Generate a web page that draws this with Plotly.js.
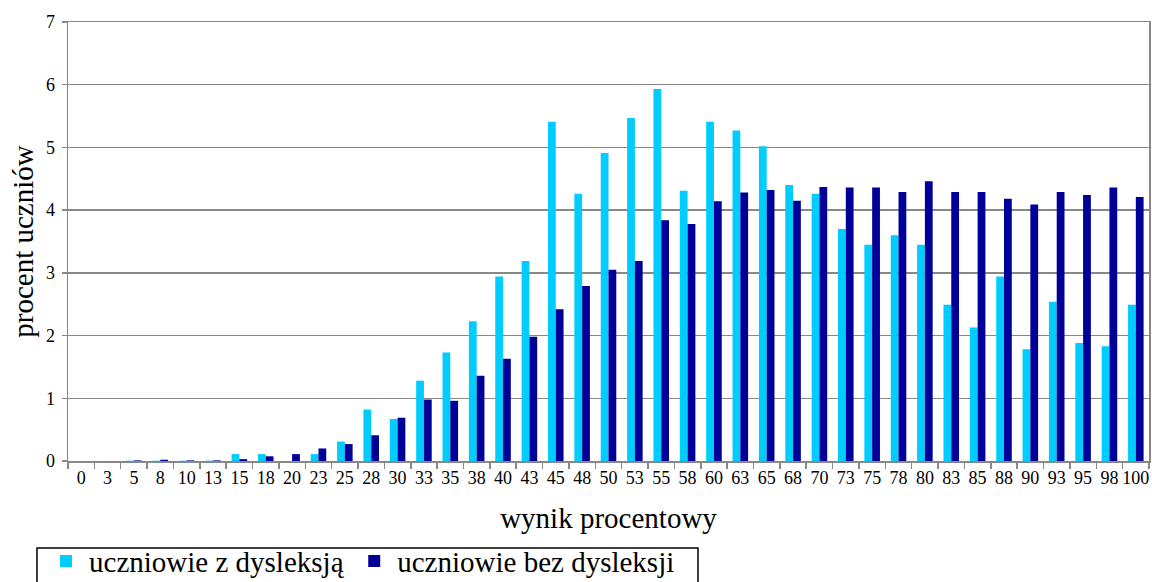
<!DOCTYPE html>
<html>
<head>
<meta charset="utf-8">
<script src="https://cdn.plot.ly/plotly-3.0.1.min.js"></script>
<style>html,body{margin:0;padding:0;background:#fff;}#chart{width:1152px;height:582px;}</style>
</head>
<body>
<div id="chart"></div>
<script>
const categories = ["0","3","5","8","10","13","15","18","20","23","25","28","30","33","35","38","40","43","45","48","50","53","55","58","60","63","65","68","70","73","75","78","80","83","85","88","90","93","95","98","100"];
const withDyslexia = [0,0,0.005,0.005,0.005,0.005,0.11,0.11,0,0.11,0.31,0.82,0.67,1.28,1.73,2.23,2.94,3.19,5.41,4.26,4.91,5.47,5.93,4.31,5.41,5.27,5.02,4.40,4.26,3.70,3.45,3.60,3.45,2.49,2.13,2.94,1.78,2.54,1.88,1.83,2.49];
const withoutDyslexia = [0,0,0.01,0.02,0.01,0.01,0.03,0.075,0.11,0.2,0.27,0.41,0.69,0.98,0.96,1.36,1.63,1.98,2.42,2.79,3.05,3.19,3.84,3.78,4.14,4.28,4.32,4.15,4.37,4.36,4.36,4.29,4.46,4.29,4.29,4.18,4.09,4.29,4.24,4.36,4.21];
const seriesNames = ["uczniowie z dysleksją","uczniowie bez dysleksji"];

const font = "Liberation Serif, Times New Roman, serif";
const traces = [
  {type:"bar", x:categories, y:withDyslexia, name:seriesNames[0], marker:{color:"#00CCFF"}, legend:"legend"},
  {type:"bar", x:categories, y:withoutDyslexia, name:seriesNames[1], marker:{color:"#000099"}, legend:"legend2"}
];
const legendBase = {orientation:"h", xanchor:"left", y:-0.17, yanchor:"top",
  borderwidth:0, bgcolor:"rgba(0,0,0,0)", font:{family:font, size:29}, itemwidth:36};
const layout = {
  width:1152, height:582,
  margin:{l:68, r:3, t:22, b:121, autoexpand:false},
  paper_bgcolor:"#fff", plot_bgcolor:"#fff",
  font:{family:font, color:"#000"},
  barmode:"group", bargap:0.41, bargroupgap:0,
  xaxis:{type:"category", tickson:"boundaries", ticks:"outside", ticklen:6, tickcolor:"#888", tickwidth:1.5,
    showline:true, linecolor:"#888", linewidth:1.5, mirror:true, showgrid:false,
    tickangle:0, tickfont:{family:font, size:18}, automargin:false,
    title:{text:"wynik procentowy", font:{family:font, size:29}, standoff:20}},
  yaxis:{range:[0,7], dtick:1, ticks:"outside", ticklen:5, tickcolor:"#888", tickwidth:1.5,
    showline:true, linecolor:"#888", linewidth:1.5, mirror:true,
    showgrid:true, gridcolor:"#888", gridwidth:1.5, zeroline:false,
    tickfont:{family:font, size:18}, ticklabelstandoff:3, automargin:false,
    title:{text:"procent uczniów", font:{family:font, size:29}, standoff:4}},
  showlegend:true,
  legend:Object.assign({}, legendBase, {x:-0.0231}),
  legend2:Object.assign({}, legendBase, {x:0.262}),
  shapes:[{type:"rect", xref:"paper", yref:"paper", x0:-0.0287, x1:0.5828, y0:-0.198, y1:-0.30,
    line:{color:"#000", width:1.5}, fillcolor:"rgba(0,0,0,0)", layer:"above"}]
};
Plotly.newPlot("chart", traces, layout, {displayModeBar:false, staticPlot:true});
</script>
</body>
</html>
